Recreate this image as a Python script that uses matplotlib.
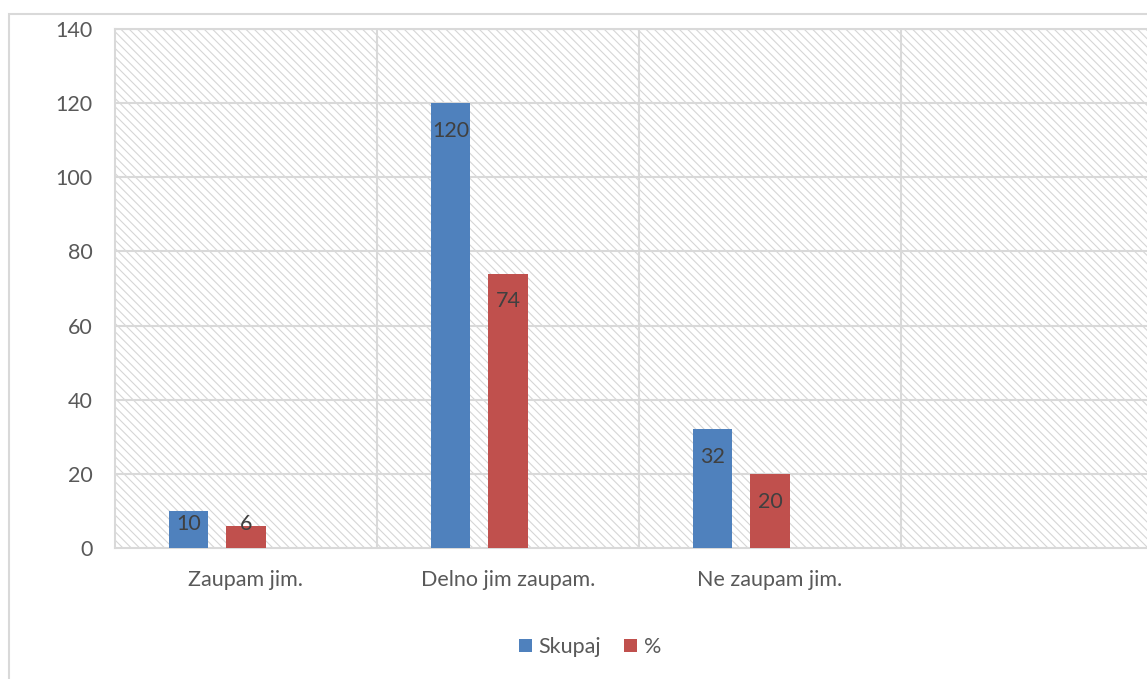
import matplotlib
matplotlib.use("Agg")
import matplotlib.pyplot as plt
from matplotlib.patches import Rectangle
import numpy as np

categories = ["Zaupam jim.", "Delno jim zaupam.", "Ne zaupam jim.", ""]
skupaj = [10, 120, 32, None]
procent = [6, 74, 20, None]
series_names = ["Skupaj", "%"]
y_ticks = [0, 20, 40, 60, 80, 100, 120, 140]

BLUE = "#4f81bd"
RED = "#c0504d"
GRID = "#d9d9d9"
TEXT = "#595959"
LABEL = "#404040"
FS = 15.5

plt.rcParams["font.family"] = ["Lato", "DejaVu Sans"]
plt.rcParams["hatch.linewidth"] = 0.8

W, H = 1147, 679
fig = plt.figure(figsize=(W / 100, H / 100), dpi=100)
fig.patch.set_facecolor("white")

# outer chart frame (runs past the right and bottom edges)
fig.patches.append(Rectangle((9 / W, -0.05), 1.2, 1 - 14 / H + 0.05,
                             transform=fig.transFigure, fill=False,
                             edgecolor=GRID, linewidth=1.5, clip_on=False))

ax = fig.add_axes([115 / W, 131 / H, 1048 / W, 519 / H])
ax.set_xlim(-0.5, 3.5)
ax.set_ylim(0, 140)

# hatched plot area background
ax.patch.set_facecolor("white")
ax.add_patch(Rectangle((0, 0), 1, 1, transform=ax.transAxes,
                       facecolor="white", edgecolor="#d6d6d6",
                       linewidth=0, hatch="\\\\\\\\", zorder=0))

x = np.arange(len(categories))
bw = 0.15
off = 0.22

vals_b = [v if v is not None else 0 for v in skupaj]
vals_r = [v if v is not None else 0 for v in procent]
bars_b = ax.bar(x - off, vals_b, bw, color=BLUE, zorder=3, label=series_names[0])
bars_r = ax.bar(x, vals_r, bw, color=RED, zorder=3, label=series_names[1])

for xs, vals in ((x - off, skupaj), (x, procent)):
    for xi, v in zip(xs, vals):
        if v is None:
            continue
        ypos = max(v - 7.5, 6.5)
        ax.text(xi, ypos, f"{v}", ha="center", va="center",
                fontsize=FS, color=LABEL, zorder=4)

# grid lines
for yv in y_ticks[1:]:
    ax.axhline(yv, color=GRID, linewidth=1.5, zorder=1)
for xv in [0.5, 1.5, 2.5]:
    ax.axvline(xv, color=GRID, linewidth=1.5, zorder=1)

for side in ["left", "top", "bottom", "right"]:
    ax.spines[side].set_color(GRID)
    ax.spines[side].set_linewidth(1.5)

ax.set_yticks(y_ticks)
ax.set_yticklabels([str(t) for t in y_ticks])
ax.set_xticks(x)
ax.set_xticklabels(categories)
ax.tick_params(axis="y", length=0, pad=16, labelsize=FS, labelcolor=TEXT)
ax.tick_params(axis="x", length=0, pad=16, labelsize=FS, labelcolor=TEXT)

fig.legend(handles=[bars_b, bars_r], labels=series_names,
           loc="center", bbox_to_anchor=(590 / W, 1 - 647 / H),
           ncol=2, frameon=False, fontsize=FS, labelcolor=TEXT,
           handlelength=0.6, handleheight=0.6, handletextpad=0.3,
           columnspacing=1.1)

fig.savefig("out.png", dpi=100, facecolor="white")
